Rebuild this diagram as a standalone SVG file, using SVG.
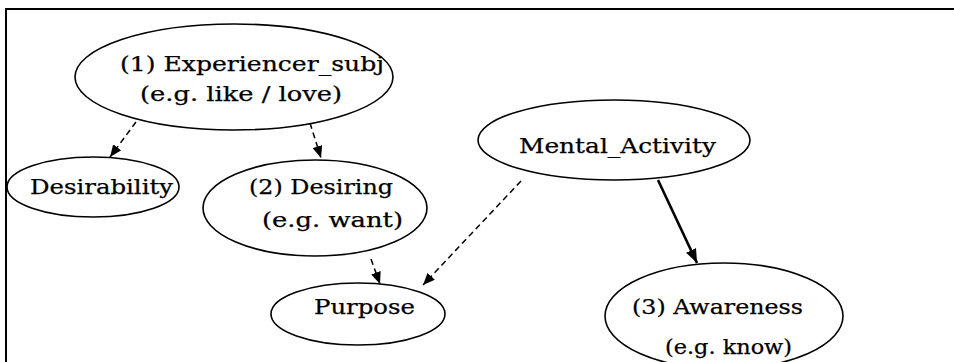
<svg xmlns="http://www.w3.org/2000/svg" width="954" height="362" viewBox="0 0 954 362">
<style>
  .node ellipse { fill: #fff; stroke: #000; stroke-width: 1.6; }
  .node text { font-family: "DejaVu Serif", "Liberation Serif", serif; font-size: 20px; fill: #000; stroke: #000; stroke-width: 0.25; }
  .dash { fill: none; stroke: #000; stroke-width: 1.5; stroke-dasharray: 6 4; }
  .solid { fill: none; stroke: #000; stroke-width: 2.6; }
</style>
<defs>
  <marker id="ah" markerWidth="12" markerHeight="10" refX="12" refY="5" orient="auto" markerUnits="userSpaceOnUse">
    <path d="M0,0 L12,5 L0,10 Z" fill="#000"/>
  </marker>
  <marker id="ahs" markerWidth="14" markerHeight="11" refX="14" refY="5.5" orient="auto" markerUnits="userSpaceOnUse">
    <path d="M0,0 L14,5.5 L0,11 Z" fill="#000"/>
  </marker>
</defs>
<rect width="954" height="362" fill="#fff"/>
<g id="frame">
  <path d="M6,362 L6,9 L954,9" fill="none" stroke="#000" stroke-width="2"/>
</g>
<g id="connectors">
  <line class="dash" x1="136" y1="122" x2="110" y2="157" marker-end="url(#ah)"/>
  <line class="dash" x1="310" y1="123" x2="321" y2="158" marker-end="url(#ah)"/>
  <line class="dash" x1="371" y1="259" x2="380" y2="284" marker-end="url(#ah)"/>
  <line class="dash" x1="521" y1="181" x2="423" y2="285" marker-end="url(#ah)"/>
  <line class="solid" x1="658" y1="180" x2="697" y2="263" marker-end="url(#ahs)"/>
</g>
<g id="experiencer_subj" class="node">
  <ellipse cx="234" cy="77" rx="159" ry="53"/>
  <text x="120" y="71" textLength="264" lengthAdjust="spacingAndGlyphs">(1) Experiencer_subj</text>
  <text x="140" y="101" textLength="202" lengthAdjust="spacingAndGlyphs">(e.g. like / love)</text>
</g>
<g id="desirability" class="node">
  <ellipse cx="93" cy="187" rx="86" ry="30"/>
  <text x="30" y="194" textLength="143" lengthAdjust="spacingAndGlyphs">Desirability</text>
</g>
<g id="desiring" class="node">
  <ellipse cx="315" cy="208" rx="112" ry="48"/>
  <text x="249" y="194" textLength="144" lengthAdjust="spacingAndGlyphs">(2) Desiring</text>
  <text x="262" y="227" textLength="141" lengthAdjust="spacingAndGlyphs">(e.g. want)</text>
</g>
<g id="purpose" class="node">
  <ellipse cx="358" cy="314" rx="87" ry="31"/>
  <text x="314" y="314" textLength="101" lengthAdjust="spacingAndGlyphs">Purpose</text>
</g>
<g id="mental_activity" class="node">
  <ellipse cx="614" cy="140" rx="136" ry="40"/>
  <text x="519" y="153" textLength="197" lengthAdjust="spacingAndGlyphs">Mental_Activity</text>
</g>
<g id="awareness" class="node">
  <ellipse cx="724" cy="316" rx="119" ry="53"/>
  <text x="632" y="314" textLength="171" lengthAdjust="spacingAndGlyphs">(3) Awareness</text>
  <text x="665" y="354" textLength="127" lengthAdjust="spacingAndGlyphs">(e.g. know)</text>
</g>
</svg>
